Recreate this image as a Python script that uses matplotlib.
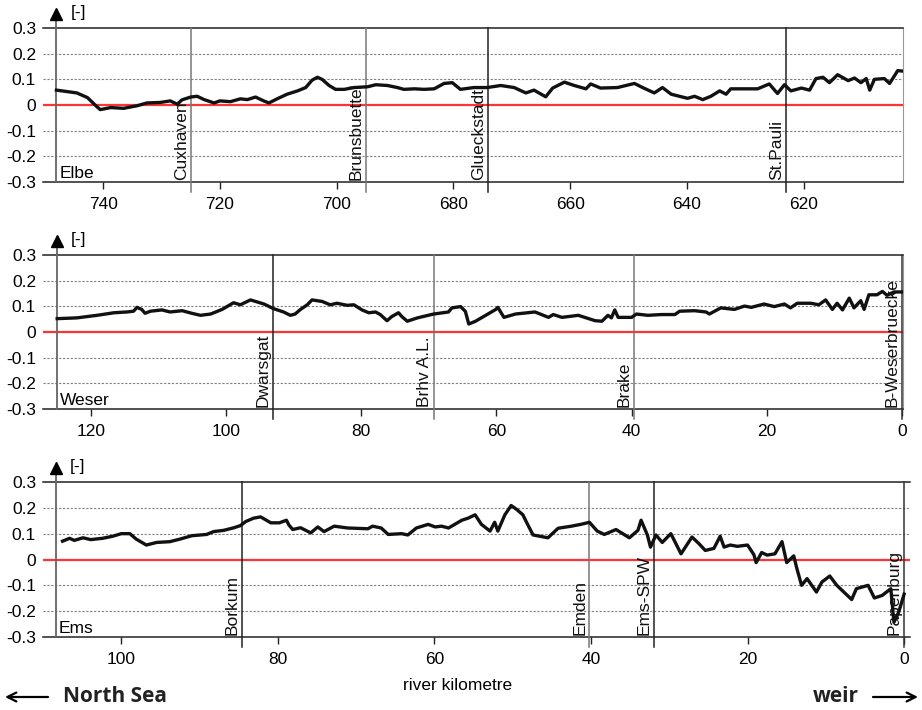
import matplotlib.pyplot as plt

plt.rcParams['font.family'] = ['Liberation Sans', 'DejaVu Sans']

# ---- Elbe ----
elbe_km = [748, 744.5, 742.7, 741, 740.5, 738.7, 736.5, 734.2, 732.5, 730.2, 728.5, 727.3, 726.5,
           725, 723.9, 722.7, 721, 720, 718.2, 716.5, 715.3, 713.9, 712.5, 711.6, 710.2, 708.5,
           706.7, 705.3, 704.2, 703.3, 702.5, 701.3, 700.2, 698.7, 697, 694.7, 693.3, 691.3,
           689.6, 688.5, 686.7, 685, 683.3, 681.6, 680.2, 678.8, 676.5, 674.2, 671.9, 669.6,
           667.6, 666.2, 664.2, 663, 661, 659.3, 657.3, 656.5, 654.8, 651.9, 649, 647.6, 645.6,
           644.2, 642.7, 639.9, 638.7, 637.3, 635.9, 634.4, 633.3, 632.5, 630.2, 627.9, 625.9,
           624.5, 623.3, 622.2, 620.4, 619, 617.9, 616.7, 615.6, 614.2, 612.4, 611.3, 610.2,
           609.3, 608.7, 607.9, 606.2, 605.3, 604.4, 603.9, 603]
elbe_val = [0.058, 0.047, 0.029, -0.008, -0.018, -0.010, -0.013, -0.003, 0.008, 0.010, 0.016, 0.003,
            0.020, 0.031, 0.034, 0.021, 0.008, 0.016, 0.013, 0.024, 0.021, 0.031, 0.016, 0.008,
            0.024, 0.042, 0.055, 0.068, 0.097, 0.108, 0.100, 0.076, 0.061, 0.061, 0.068, 0.071,
            0.079, 0.076, 0.068, 0.061, 0.063, 0.061, 0.063, 0.084, 0.087, 0.061, 0.068, 0.068,
            0.076, 0.068, 0.047, 0.058, 0.032, 0.066, 0.089, 0.076, 0.063, 0.082, 0.066, 0.068,
            0.084, 0.068, 0.047, 0.068, 0.042, 0.026, 0.034, 0.021, 0.034, 0.055, 0.042, 0.063,
            0.063, 0.063, 0.082, 0.045, 0.079, 0.055, 0.066, 0.058, 0.103, 0.108, 0.087, 0.118,
            0.095, 0.105, 0.087, 0.103, 0.058, 0.100, 0.103, 0.084, 0.116, 0.134, 0.132]
elbe_stations = ['Cuxhaven', 'Brunsbuettel', 'Glueckstadt', 'St.Pauli']
elbe_station_km = [725, 695, 674, 623]
elbe_ticks = [740, 720, 700, 680, 660, 640, 620]

# ---- Weser ----
weser_km = [125, 122.1, 119.1, 116.6, 114.7, 113.7, 113.2, 112.5, 112, 111.2, 109.5, 108.3, 106.5,
            105.1, 103.8, 102.3, 100.6, 98.9, 97.9, 96.4, 94.4, 93, 91.5, 90.5, 89.8, 89, 88,
            87.3, 85.8, 84.6, 83.6, 82.1, 81.1, 79.9, 78.9, 77.9, 77.2, 76.2, 75.5, 74.5, 74,
            73.2, 71.7, 69.3, 67.1, 66.6, 65.3, 64.6, 64.1, 63.1, 61.4, 60.1, 59.8, 58.9, 57.2,
            54.3, 52.3, 51.6, 50.3, 47.9, 45.4, 44.4, 43.5, 43, 42.5, 42, 40, 39.3, 37.6, 35.6,
            33.6, 32.9, 30.7, 29, 28.5, 26.8, 24.8, 23.3, 22.3, 20.4, 18.9, 17.4, 16.5, 15.5,
            13.5, 12.3, 11.3, 10.3, 9.6, 8.8, 7.8, 7.1, 6.1, 5.6, 4.9, 3.7, 2.9, 2.2, 1.2, 0]
weser_val = [0.052, 0.055, 0.065, 0.075, 0.078, 0.081, 0.096, 0.088, 0.073, 0.081, 0.086, 0.078,
             0.083, 0.073, 0.065, 0.070, 0.088, 0.114, 0.106, 0.125, 0.109, 0.091, 0.078, 0.065,
             0.070, 0.088, 0.106, 0.125, 0.119, 0.106, 0.112, 0.104, 0.106, 0.086, 0.075, 0.078,
             0.068, 0.044, 0.060, 0.075, 0.060, 0.042, 0.055, 0.070, 0.078, 0.094, 0.099, 0.080,
             0.031, 0.042, 0.068, 0.088, 0.096, 0.057, 0.070, 0.078, 0.057, 0.068, 0.057, 0.065,
             0.044, 0.042, 0.065, 0.055, 0.086, 0.057, 0.057, 0.070, 0.065, 0.068, 0.068, 0.081,
             0.083, 0.078, 0.070, 0.094, 0.088, 0.101, 0.096, 0.109, 0.099, 0.109, 0.094, 0.112,
             0.112, 0.106, 0.125, 0.088, 0.112, 0.086, 0.132, 0.094, 0.122, 0.088, 0.145, 0.145,
             0.158, 0.143, 0.156, 0.156]
weser_stations = ['Dwarsgat', 'Brhv A.L.', 'Brake', 'B-Weserbruecke']
weser_station_km = [93.1, 69.3, 39.7, 0]
weser_ticks = [120, 100, 80, 60, 40, 20, 0]

# ---- Ems ----
ems_km = [107.5, 106.6, 106, 104.9, 103.9, 102.4, 101.1, 100, 98.9, 98.1, 96.8, 95.5, 93.8, 92.5,
          91, 89.1, 88.2, 86.9, 85.6, 84.8, 84.1, 83.1, 82.2, 80.9, 79.8, 78.9, 78.6, 78.1, 77.1,
          75.8, 74.9, 74.1, 72.8, 71.1, 68.5, 67.9, 66.8, 65.9, 64.2, 63.4, 62.3, 60.8, 59.9,
          59.1, 58.2, 56.5, 55.7, 54.8, 54, 52.9, 52.3, 51.9, 51, 50.2, 49.5, 48.7, 48.1, 47.4,
          45.5, 44.2, 42.5, 41.3, 40.2, 39.2, 38.3, 36.8, 35.1, 34, 33.6, 32.8, 32.4, 31.7, 30.9,
          29.8, 28.5, 27.1, 26.2, 25.4, 24.3, 23.5, 23, 22.2, 21.3, 20, 19.2, 18.9, 18.2, 17.5,
          16.5, 15.6, 15, 14.1, 13.7, 13.1, 12.4, 11.2, 10.5, 9.5, 8.6, 6.7, 6.1, 4.6, 3.8, 2.8,
          1.7, 1.3, 0.7, 0]
ems_val = [0.071, 0.082, 0.074, 0.084, 0.077, 0.082, 0.090, 0.100, 0.100, 0.079, 0.056, 0.066,
           0.069, 0.079, 0.092, 0.097, 0.108, 0.113, 0.123, 0.131, 0.147, 0.160, 0.165, 0.142,
           0.142, 0.152, 0.134, 0.116, 0.123, 0.103, 0.126, 0.108, 0.129, 0.122, 0.119, 0.129,
           0.122, 0.097, 0.100, 0.095, 0.122, 0.136, 0.126, 0.129, 0.122, 0.152, 0.160, 0.173,
           0.136, 0.110, 0.144, 0.110, 0.173, 0.209, 0.194, 0.173, 0.136, 0.095, 0.084, 0.121,
           0.129, 0.136, 0.144, 0.110, 0.097, 0.116, 0.084, 0.113, 0.152, 0.095, 0.048, 0.095,
           0.066, 0.100, 0.022, 0.087, 0.061, 0.035, 0.043, 0.090, 0.048, 0.056, 0.051, 0.056,
           0.019, -0.012, 0.027, 0.017, 0.022, 0.069, -0.012, 0.014, -0.035, -0.100, -0.074,
           -0.126, -0.087, -0.064, -0.100, -0.155, -0.113, -0.100, -0.149, -0.139, -0.113, -0.243,
           -0.204, -0.134]
ems_stations = ['Borkum', 'Emden', 'Ems-SPW', 'Papenburg']
ems_station_km = [84.6, 40.2, 32, 0]
ems_ticks = [100, 80, 60, 40, 20, 0]

yticks = [0.3, 0.2, 0.1, 0, -0.1, -0.2, -0.3]
ytick_labels = ['0.3', '0.2', '0.1', '0', '-0.1', '-0.2', '-0.3']

W, H = 922, 710
fig = plt.figure(figsize=(W / 100, H / 100), dpi=100)


def panel(left, right, top, bottom, name, km, val, st_names, st_km, st_cols,
          xlim, xticks, axis_km, right_spine=True):
    ax = fig.add_axes([left / W, 1 - bottom / H, (right - left) / W, (bottom - top) / H])
    ax.set_xlim(*xlim)
    ax.set_ylim(-0.3, 0.3)
    for y in (0.2, 0.1, -0.1, -0.2):
        ax.axhline(y, color='#808080', lw=0.8, ls=(0, (2, 1.5)), zorder=1)
    ax.axhline(0, color='#ff3333', lw=1.6, zorder=2)
    ax.plot(km, val, color='#111111', lw=2.4, zorder=5, solid_joinstyle='round')

    for s, k, c in zip(st_names, st_km, st_cols):
        ax.axvline(k, ymin=-0.065, ymax=1, color=c, lw=1.1, clip_on=False, zorder=3)
        ax.annotate(s, xy=(k, 0), xycoords=('data', 'axes fraction'),
                    xytext=(-1.5, 1.5), textcoords='offset points', rotation=90,
                    ha='right', va='bottom', fontsize=12.5, color='#111111', zorder=4)

    # y-axis arrow
    ax.axvline(axis_km, ymin=0, ymax=1.08, color='#666666', lw=1.3, clip_on=False, zorder=3)
    ax.plot([axis_km], [0.355], marker='^', color='black', ms=9, clip_on=False, zorder=6)
    ax.annotate('[-]', xy=(axis_km, 0.36), xycoords='data', xytext=(10, 0),
                textcoords='offset points', ha='left', va='center', fontsize=12.5,
                annotation_clip=False)
    ax.annotate(name, xy=(axis_km, 0), xycoords=('data', 'axes fraction'),
                xytext=(2, 1), textcoords='offset points', ha='left', va='bottom',
                fontsize=12.5)

    ax.set_yticks(yticks)
    ax.set_yticklabels(ytick_labels)
    ax.set_xticks(xticks)
    ax.set_xticklabels([str(t) for t in xticks])
    ax.tick_params(axis='y', length=0, pad=5, labelsize=12.5)
    ax.tick_params(axis='x', length=5, width=1, color='#222222', pad=6, labelsize=12.5)
    ax.spines['left'].set_visible(False)
    ax.spines['top'].set_color('#222222')
    ax.spines['bottom'].set_color('#222222')
    ax.spines['top'].set_linewidth(1.1)
    ax.spines['bottom'].set_linewidth(1.1)
    if right_spine:
        ax.spines['right'].set_color('#999999')
    else:
        ax.spines['right'].set_visible(False)
    return ax


panel(43, 903, 28, 182, 'Elbe', elbe_km, elbe_val, elbe_stations, elbe_station_km,
      ['#777777', '#777777', '#222222', '#222222'], (750.3, 603), elbe_ticks, 748)
panel(43, 903, 255, 409, 'Weser', weser_km, weser_val, weser_stations, weser_station_km,
      ['#222222', '#777777', '#777777', '#333333'], (127.1, -0.15), weser_ticks, 125)
panel(43, 910, 482, 637, 'Ems', ems_km, ems_val, ems_stations, ems_station_km,
      ['#222222', '#777777', '#222222', '#333333'], (110, -0.75), ems_ticks, 108.3,
      right_spine=False)

fig.text(458 / W, 1 - 686 / H, 'river kilometre', ha='center', va='center', fontsize=12.5)
fig.text(63 / W, 1 - 697 / H, 'North Sea', ha='left', va='center', fontsize=15,
         fontweight='bold', family=['Open Sans', 'DejaVu Sans'], color='#222222')
fig.text(859 / W, 1 - 697 / H, 'weir', ha='right', va='center', fontsize=15,
         fontweight='bold', family=['Open Sans', 'DejaVu Sans'], color='#222222')
fig.add_artist(plt.Line2D([0, 0], [0, 0]))
ap = dict(arrowstyle='->', lw=1.6, color='black', mutation_scale=16, shrinkA=0, shrinkB=0)
fig.axes[0].annotate('', xy=(5, H - 697), xycoords='figure pixels',
                     xytext=(48, H - 697), textcoords='figure pixels', arrowprops=ap)
fig.axes[0].annotate('', xy=(918, H - 697), xycoords='figure pixels',
                     xytext=(873, H - 697), textcoords='figure pixels', arrowprops=ap)

fig.savefig('out.png', dpi=100)
